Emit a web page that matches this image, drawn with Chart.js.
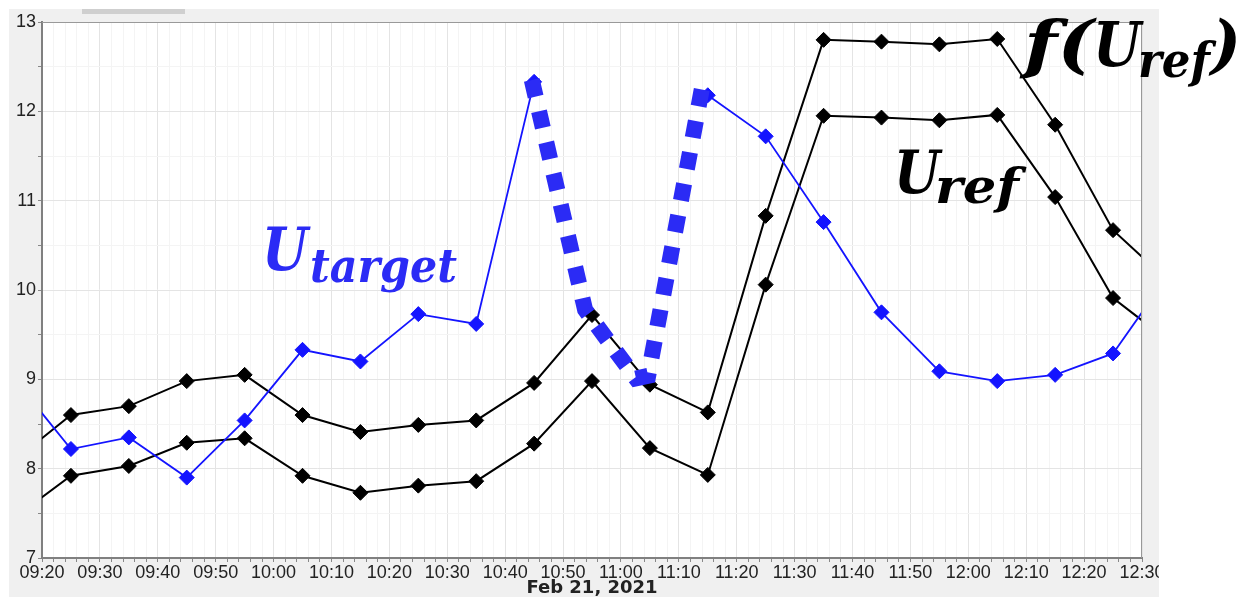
<!DOCTYPE html>
<html>
<head>
<meta charset="utf-8">
<script src="https://cdn.jsdelivr.net/npm/chart.js@4.4.1/dist/chart.umd.min.js"></script>
<style>
  html, body { margin: 0; padding: 0; background: #fff; }
  #wrap { width: 1244px; height: 597px; }
</style>
</head>
<body>
<div id="wrap"><canvas id="chart" width="1244" height="597"></canvas></div>
<script>
// sample times (10 min apart, first and last lie just outside the visible range)
const times = ["09:15", "09:25", "09:35", "09:45", "09:55", "10:05", "10:15",
  "10:25", "10:35", "10:45", "10:55", "11:05", "11:15", "11:25", "11:35",
  "11:45", "11:55", "12:05", "12:15", "12:25", "12:35"];

const fUref = [8.08, 8.60, 8.70, 8.98, 9.05, 8.60, 8.41, 8.49, 8.54, 8.96,
  9.72, 8.94, 8.63, 10.83, 12.80, 12.78, 12.75, 12.81, 11.85, 10.67, 10.07];

const uRef = [7.44, 7.92, 8.03, 8.29, 8.34, 7.92, 7.73, 7.81, 7.86, 8.28,
  8.98, 8.23, 7.93, 10.06, 11.95, 11.93, 11.90, 11.96, 11.04, 9.91, 9.41];

const uTarget = [9.02, 8.22, 8.35, 7.90, 8.54, 9.33, 9.20, 9.73, 9.62, 12.33,
  null, null, 12.18, 11.72, 10.76, 9.75, 9.09, 8.98, 9.05, 9.29, 10.21];

// hand drawn dotted "V" over the gap in U_target
const markTimes = ["10:44.6", "10:53.8", "11:02.6", "11:04.7", "11:14.0"];
const markValues = [12.35, 9.78, 9.01, 9.04, 12.26];

const xMin = "09:20";
const xMax = "12:30";
const dateTitle = "Feb 21, 2021";

function toMin(s) {
  const p = s.split(":");
  return Number(p[0]) * 60 + Number(p[1]);
}
function fmt(v) {
  const h = Math.floor(v / 60), m = Math.round(v % 60);
  return String(h).padStart(2, "0") + ":" + String(m).padStart(2, "0");
}
function pts(ts, vals) {
  return ts.map((t, i) => ({ x: toMin(t), y: vals[i] }));
}

const tickFont = { family: "'Liberation Sans', Arial, sans-serif", size: 18 };

// background panel, white plot area, top/right frame and the math labels
const decor = {
  id: "decor",
  beforeDraw(chart) {
    const ctx = chart.ctx, a = chart.chartArea;
    ctx.save();
    ctx.fillStyle = "#fff";
    ctx.fillRect(0, 0, chart.width, chart.height);
    ctx.fillStyle = "#f0f0f0";
    ctx.fillRect(9, 9, 1150, chart.height - 9);
    ctx.fillStyle = "#cfcfcf";
    ctx.fillRect(82, 9, 103, 5);
    ctx.fillStyle = "#fff";
    ctx.fillRect(a.left, a.top, a.right - a.left, a.bottom - a.top);
    ctx.restore();
  },
  afterDraw(chart) {
    const ctx = chart.ctx, a = chart.chartArea;
    ctx.save();
    ctx.strokeStyle = "#999";
    ctx.lineWidth = 1;
    ctx.beginPath();
    ctx.moveTo(a.left, a.top + 0.5);
    ctx.lineTo(a.right - 0.5, a.top + 0.5);
    ctx.lineTo(a.right - 0.5, a.bottom);
    ctx.stroke();
    ctx.fillStyle = "#fff";
    ctx.fillRect(1159, 0, chart.width - 1159, chart.height);

    function piece(text, x, base, size, width, color) {
      ctx.font = "bold italic " + size + "px 'DejaVu Serif', serif";
      ctx.fillStyle = color;
      ctx.textBaseline = "alphabetic";
      ctx.textAlign = "left";
      const w = ctx.measureText(text).width;
      ctx.save();
      ctx.translate(x, base);
      ctx.scale(width / w, 1);
      ctx.fillText(text, 0, 0);
      ctx.restore();
    }
    const blue = "#2b2bf5";
    piece("U", 262, 270, 60, 46, blue);
    piece("target", 310, 282, 46, 147, blue);
    piece("U", 894, 193, 60, 46, "#000");
    piece("ref", 935, 203, 48, 84, "#000");
    piece("f(", 1024, 66, 64, 70, "#000");
    piece("U", 1093, 66, 62, 48, "#000");
    piece("ref", 1138, 77, 48, 72, "#000");
    piece(")", 1211, 66, 64, 30, "#000");
    ctx.restore();
  }
};

new Chart(document.getElementById("chart"), {
  type: "line",
  data: {
    datasets: [
      {
        label: "mark",
        data: pts(markTimes, markValues),
        borderColor: "#2b2bf5",
        borderWidth: 16,
        borderDash: [17, 15],
        borderCapStyle: "butt",
        pointRadius: 0,
        order: 0,
        clip: 0,
      },
      {
        label: "U_target",
        data: pts(times, uTarget),
        borderColor: "#1414ff",
        backgroundColor: "#1414ff",
        borderWidth: 1.8,
        pointStyle: "rectRot",
        pointRadius: 7.5,
        pointBorderWidth: 1,
        spanGaps: false,
        order: 1,
        clip: 0,
      },
      {
        label: "f(U_ref)",
        data: pts(times, fUref),
        borderColor: "#000",
        backgroundColor: "#000",
        borderWidth: 2,
        pointStyle: "rectRot",
        pointRadius: 7.5,
        pointBorderWidth: 1,
        order: 2,
        clip: 0,
      },
      {
        label: "U_ref",
        data: pts(times, uRef),
        borderColor: "#000",
        backgroundColor: "#000",
        borderWidth: 2,
        pointStyle: "rectRot",
        pointRadius: 7.5,
        pointBorderWidth: 1,
        order: 2,
        clip: 0,
      },
    ],
  },
  options: {
    responsive: false,
    animation: false,
    layout: { padding: { top: 22, right: 102, left: 0, bottom: 0 } },
    plugins: { legend: { display: false }, tooltip: { enabled: false } },
    elements: { line: { tension: 0 } },
    scales: {
      x: {
        type: "linear",
        min: toMin(xMin),
        max: toMin(xMax),
        afterFit: (s) => { s.height = 39; },
        ticks: {
          stepSize: 2,
          autoSkip: false,
          maxRotation: 0,
          padding: 0,
          color: "#222",
          font: tickFont,
          callback: (v) => (v % 10 === 0 ? fmt(v) : ""),
        },
        grid: {
          color: (c) => (c.tick && c.tick.value % 10 === 0 ? "#e4e4e4" : "#f4f4f4"),
          tickLength: 4,
          tickColor: "#888",
        },
        border: { color: "#808080", width: 2 },
        title: {
          display: true,
          text: dateTitle,
          color: "#222",
          padding: 0,
          font: { family: "'DejaVu Sans', sans-serif", size: 18, weight: "bold", lineHeight: 1 },
        },
      },
      y: {
        min: 7,
        max: 13,
        afterFit: (s) => { s.width = 42; },
        ticks: {
          stepSize: 0.5,
          padding: 2,
          color: "#222",
          font: tickFont,
          callback: (v) => (Number.isInteger(v) ? String(v) : ""),
        },
        grid: {
          color: (c) => (c.tick && Number.isInteger(c.tick.value) ? "#e4e4e4" : "#f4f4f4"),
          tickLength: 4,
          tickColor: "#888",
        },
        border: { color: "#808080", width: 2 },
      },
    },
  },
  plugins: [decor],
});
</script>
</body>
</html>
